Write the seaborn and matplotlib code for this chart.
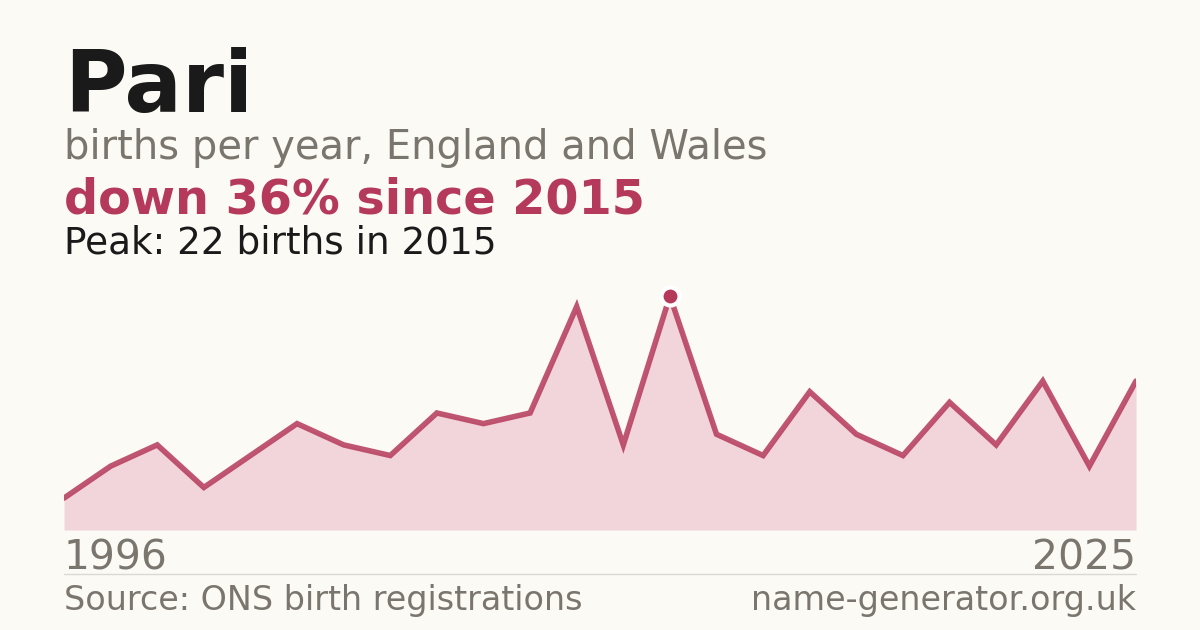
import numpy as np
import pandas as pd
import matplotlib
matplotlib.use("Agg")
import matplotlib.pyplot as plt
import seaborn as sns

# births of "Pari" per registration year (years with no record are left out)
years = [1996, 1997, 1998, 1999, 2001, 2003, 2004, 2006, 2008, 2010, 2012, 2013,
         2014, 2015, 2016, 2017, 2018, 2019, 2020, 2021, 2022, 2023, 2024, 2025]
births = [3, 6, 8, 4, 7, 10, 8, 7, 11, 10, 11, 21,
          8, 22, 9, 7, 13, 9, 7, 12, 8, 14, 6, 14]

name = "Pari"
subtitle = "births per year, England and Wales"
source = "Source: ONS birth registrations"
site = "name-generator.org.uk"

bg = "#fbfaf5"
red = "#b5395a"
fill = "#f2d5db"
grey = "#7a756d"
dark = "#1a1a1a"

df = pd.DataFrame({"pos": range(len(years)), "year": years, "births": births})
peak_i = int(np.argmax(births))
peak_year = years[peak_i]
peak_val = births[peak_i]
change = round((births[-1] - peak_val) / peak_val * 100)

sns.set_theme(style="white")
plt.rcParams["font.family"] = ["DejaVu Sans"]

fig = plt.figure(figsize=(12, 6.3), dpi=100, facecolor=bg)
ax = fig.add_axes([64 / 1200, 100 / 630, 1072 / 1200, 250 / 630])
ax.set_facecolor(bg)

ax.fill_between(df["pos"], df["births"], 0, color=fill, lw=0, zorder=1)
sns.lineplot(data=df, x="pos", y="births", ax=ax, color=red, lw=4, alpha=0.85,
             zorder=2, solid_joinstyle="miter")
ax.plot([peak_i], [peak_val], "o", ms=13, color=red, mec="white", mew=3, zorder=3)

ax.set_xlim(0, len(years) - 1)
ax.set_ylim(0, 23.5)
ax.set_axis_off()

# header text
fig.text(64 / 1200, 1 - 112 / 630, name, fontsize=61.5, fontweight="bold", color=dark, va="baseline")
fig.text(64 / 1200, 1 - 159 / 630, subtitle, fontsize=28.8, color=grey, va="baseline")
direction = "down" if change < 0 else "up"
fig.text(64 / 1200, 1 - 213 / 630, f"{direction} {abs(change)}% since {peak_year}",
         fontsize=34.4, fontweight="bold", color=red, va="baseline")
fig.text(64 / 1200, 1 - 253 / 630, f"Peak: {peak_val} births in {peak_year}",
         fontsize=26.9, color=dark, va="baseline")

# year range under the chart
fig.text(64 / 1200, 1 - 570 / 630, str(years[0]), fontsize=29.4, color=grey, va="baseline")
fig.text(1136 / 1200, 1 - 570 / 630, str(years[-1]), fontsize=29.4, color=grey,
         va="baseline", ha="right")

# footer
fig.add_artist(plt.Line2D([64 / 1200, 1136 / 1200], [1 - 574 / 630, 1 - 574 / 630],
                          color="#dcd9d2", lw=1))
fig.text(64 / 1200, 1 - 610 / 630, source, fontsize=24, color=grey, va="baseline")
fig.text(1136 / 1200, 1 - 610 / 630, site, fontsize=24, color=grey, va="baseline", ha="right")

fig.savefig("out.png", dpi=100, facecolor=bg)
